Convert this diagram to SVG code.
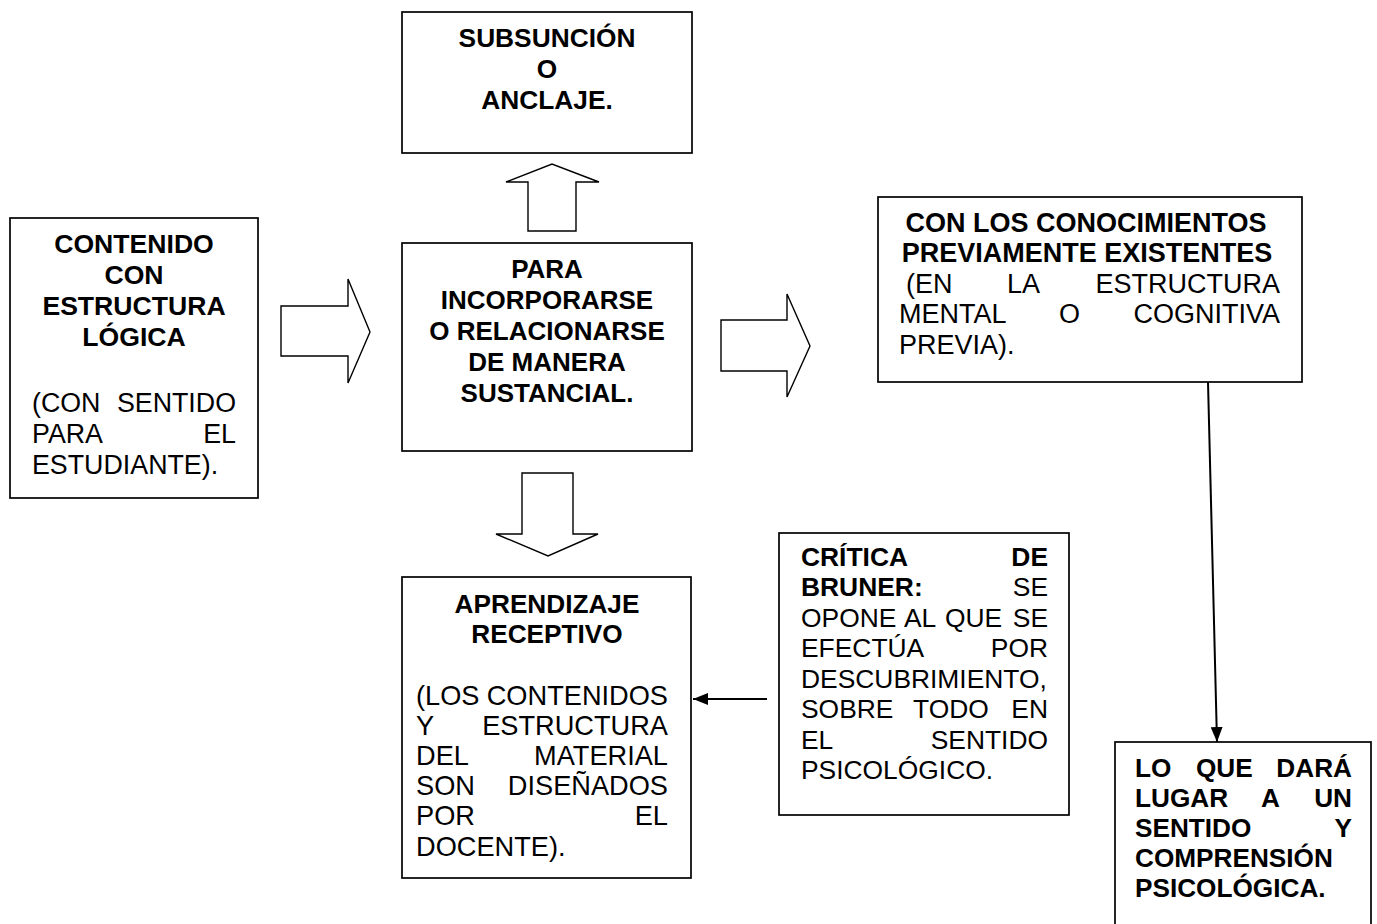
<svg xmlns="http://www.w3.org/2000/svg" width="1377" height="924" viewBox="0 0 1377 924">
  <style>
    .box { fill: #ffffff; stroke: #000000; stroke-width: 1.7; }
    .block { fill: #ffffff; stroke: #000000; stroke-width: 1.4; stroke-linejoin: miter; }
    .link { fill: none; stroke: #000000; stroke-width: 2; }
    text { font-family: "Liberation Sans", Arial, Helvetica, sans-serif; font-size: 26px; fill: #000000; }
    .b { font-weight: bold; }
    .c { text-anchor: middle; }
    .r { text-anchor: end; }
    #contenido text { font-size: 26.8px; }
    #contenido text.b { font-size: 26.6px; }
    #conocimientos text { font-size: 27px; }
    #aprendizaje text { font-size: 27.2px; }
    #aprendizaje text.b { font-size: 26.2px; }
    #critica text { font-size: 26.4px; }
    #subsuncion text { font-size: 26.3px; }
    #sentido text { font-size: 26.2px; }
  </style>
  <defs>
    <marker id="head" viewBox="0 0 15 12" refX="15" refY="6" markerWidth="15" markerHeight="12" markerUnits="userSpaceOnUse" orient="auto">
      <path d="M0,0 L15,6 L0,12 Z" fill="#000000"/>
    </marker>
  </defs>

  <rect width="1377" height="924" fill="#ffffff"/>

  <!-- connectors: block arrows and line arrows -->
  <g id="connectors">
    <polygon class="block" points="281,306 348,306 348,279 370,332 348,383 348,356 281,356"/>
    <polygon class="block" points="528,231 528,182 506,182 552,164 599,182 576,182 576,231"/>
    <polygon class="block" points="721,320 787,320 787,294 810,346 787,397 787,371 721,371"/>
    <polygon class="block" points="522,473 573,473 573,534 598,534 548,556 496,534 522,534"/>
    <line class="link" x1="1208" y1="382" x2="1217" y2="742" marker-end="url(#head)"/>
    <line class="link" x1="767" y1="699" x2="693" y2="699" marker-end="url(#head)"/>
  </g>

  <!-- content with logical structure -->
  <g id="contenido">
    <rect class="box" x="10" y="218" width="248" height="280"/>
    <text class="b c" x="134" y="253">CONTENIDO</text>
    <text class="b c" x="134" y="284">CON</text>
    <text class="b c" x="134" y="315">ESTRUCTURA</text>
    <text class="b c" x="134" y="346">LÓGICA</text>
    <text x="32" y="412">(CON</text>
    <text class="r" x="236" y="412">SENTIDO</text>
    <text x="32" y="443">PARA</text>
    <text class="r" x="236" y="443">EL</text>
    <text x="32" y="474">ESTUDIANTE).</text>
  </g>

  <g id="subsuncion">
    <rect class="box" x="402" y="12" width="290" height="141"/>
    <text class="b c" x="547" y="47">SUBSUNCIÓN</text>
    <text class="b c" x="547" y="78">O</text>
    <text class="b c" x="547" y="109">ANCLAJE.</text>
  </g>

  <g id="incorporarse">
    <rect class="box" x="402" y="243" width="290" height="208"/>
    <text class="b c" x="547" y="278">PARA</text>
    <text class="b c" x="547" y="309">INCORPORARSE</text>
    <text class="b c" x="547" y="340">O RELACIONARSE</text>
    <text class="b c" x="547" y="371">DE MANERA</text>
    <text class="b c" x="547" y="402">SUSTANCIAL.</text>
  </g>

  <g id="conocimientos">
    <rect class="box" x="878" y="197" width="424" height="185"/>
    <text class="b c" x="1086" y="232">CON LOS CONOCIMIENTOS</text>
    <text class="b c" x="1087" y="262">PREVIAMENTE EXISTENTES</text>
    <text x="906" y="293">(EN</text>
    <text x="1007" y="293">LA</text>
    <text class="r" x="1280" y="293">ESTRUCTURA</text>
    <text x="899" y="323">MENTAL</text>
    <text x="1059" y="323">O</text>
    <text class="r" x="1280" y="323">COGNITIVA</text>
    <text x="899" y="354">PREVIA).</text>
  </g>

  <g id="aprendizaje">
    <rect class="box" x="402" y="577" width="289" height="301"/>
    <text class="b c" x="547" y="613">APRENDIZAJE</text>
    <text class="b c" x="547" y="643">RECEPTIVO</text>
    <text x="416" y="705">(LOS</text>
    <text class="r" x="668" y="705">CONTENIDOS</text>
    <text x="416" y="735">Y</text>
    <text class="r" x="668" y="735">ESTRUCTURA</text>
    <text x="416" y="765">DEL</text>
    <text class="r" x="668" y="765">MATERIAL</text>
    <text x="416" y="795">SON</text>
    <text class="r" x="668" y="795">DISEÑADOS</text>
    <text x="416" y="825">POR</text>
    <text class="r" x="668" y="825">EL</text>
    <text x="416" y="856">DOCENTE).</text>
  </g>

  <g id="critica">
    <rect class="box" x="779" y="533" width="290" height="282"/>
    <text class="b" x="801" y="566">CRÍTICA</text>
    <text class="b r" x="1048" y="566">DE</text>
    <text class="b" x="801" y="596">BRUNER:</text>
    <text class="r" x="1048" y="596">SE</text>
    <text x="801" y="627">OPONE</text>
    <text x="904" y="627">AL</text>
    <text x="945" y="627">QUE</text>
    <text class="r" x="1048" y="627">SE</text>
    <text x="801" y="657">EFECTÚA</text>
    <text class="r" x="1048" y="657">POR</text>
    <text x="801" y="688">DESCUBRIMIENTO,</text>
    <text x="801" y="718">SOBRE</text>
    <text x="913" y="718">TODO</text>
    <text class="r" x="1048" y="718">EN</text>
    <text x="801" y="749">EL</text>
    <text class="r" x="1048" y="749">SENTIDO</text>
    <text x="801" y="779">PSICOLÓGICO.</text>
  </g>

  <g id="sentido">
    <rect class="box" x="1115" y="742" width="256" height="200"/>
    <text class="b" x="1135" y="777">LO</text>
    <text class="b" x="1196" y="777">QUE</text>
    <text class="b r" x="1352" y="777">DARÁ</text>
    <text class="b" x="1135" y="807">LUGAR</text>
    <text class="b" x="1261" y="807">A</text>
    <text class="b r" x="1352" y="807">UN</text>
    <text class="b" x="1135" y="837">SENTIDO</text>
    <text class="b r" x="1352" y="837">Y</text>
    <text class="b" x="1135" y="867">COMPRENSIÓN</text>
    <text class="b" x="1135" y="897">PSICOLÓGICA.</text>
  </g>
</svg>
